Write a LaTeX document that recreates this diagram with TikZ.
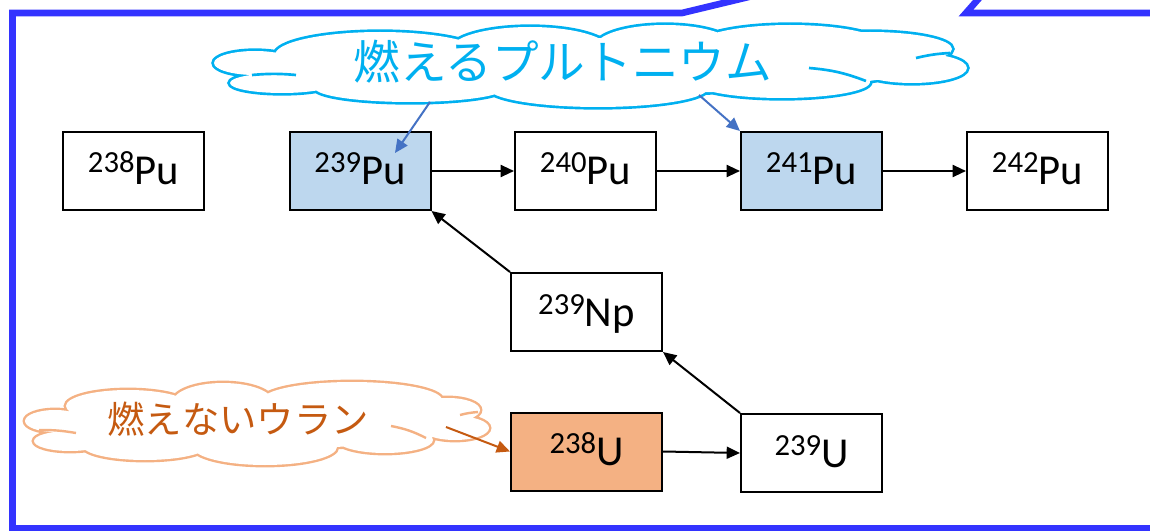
\documentclass[tikz,border=0pt]{standalone}
\usepackage{fontspec}
\setmainfont{Carlito}
\newfontfamily\jp{Noto Sans CJK JP}
\usetikzlibrary{arrows.meta}
\definecolor{frameblue}{HTML}{3333FF}
\definecolor{pufill}{HTML}{BDD7EE}
\definecolor{ufill}{HTML}{F4B183}
\definecolor{cloudblue}{HTML}{00B0F0}
\definecolor{callblue}{HTML}{4472C4}
\definecolor{orangetext}{HTML}{C55A11}
\definecolor{cloudorange}{HTML}{F4B183}
\newcommand\nuc[2]{{\fontsize{23}{23}\selectfont\raisebox{9pt}{#1}}{\fontsize{32}{32}\selectfont #2}}
\begin{document}
\begin{tikzpicture}[x=0.75pt,y=-0.75pt,
  iso/.style={draw=black, line width=1.5pt, minimum width=105.75pt, minimum height=58.5pt,
    text height=21pt, text depth=0pt, inner sep=0pt},
  wideiso/.style={iso, minimum width=113.25pt},
  conn/.style={line width=1.5pt, -{Triangle[length=10pt,width=9pt]}},
  callb/.style={callblue, line width=1.5pt, -{Triangle[length=10pt,width=9pt]}},
  callo/.style={orangetext, line width=1.5pt, -{Triangle[length=10pt,width=9pt]}},
  bluelobes/.style={insert path={
    (255,63) ellipse [x radius=41, y radius=12]
    (282,83) ellipse [x radius=52, y radius=10]
    (410,88) ellipse [x radius=95, y radius=14]
    (598,88) ellipse [x radius=110, y radius=19]
    (782,82) ellipse [x radius=88, y radius=16]
    (912,68) ellipse [x radius=55, y radius=15]
    (870,49) ellipse [x radius=82, y radius=17]
    (790,46) ellipse [x radius=95, y radius=21]
    (665,47) ellipse [x radius=70, y radius=22]
    (530,50) ellipse [x radius=80, y radius=23]
    (380,55) ellipse [x radius=105, y radius=23]
    (590,66) ellipse [x radius=330, y radius=28]}},
  orangelobes/.style={insert path={
    (55,421) ellipse [x radius=30, y radius=11]
    (70,441) ellipse [x radius=36, y radius=10]
    (128,406) ellipse [x radius=62, y radius=16]
    (223,402) ellipse [x radius=50, y radius=19]
    (352,400) ellipse [x radius=90, y radius=18]
    (448,410) ellipse [x radius=32, y radius=12]
    (455,428) ellipse [x radius=34, y radius=12]
    (385,440) ellipse [x radius=48, y radius=13]
    (265,447) ellipse [x radius=72, y radius=18]
    (145,446) ellipse [x radius=62, y radius=14]
    (257,424) ellipse [x radius=200, y radius=25]}},
]
\useasboundingbox (0,0) rectangle (1150,531);
\begin{scope}
\clip (0,0) rectangle (1150,531);
\draw[frameblue, line width=5pt, line join=miter] (1160,528.5) -- (12.5,528.5) -- (12.5,13) -- (682,13) -- (790,-13);
\draw[frameblue, line width=5pt, line join=miter] (988,-12) -- (966,13) -- (1160,13);
\end{scope}

% blue cloud
\draw[cloudblue, line width=4pt, bluelobes];
\fill[white, bluelobes];
\draw[cloudblue, line width=2pt] (252,75) to[bend left=5] (296,75);
\draw[cloudblue, line width=2pt] (809,68) to[bend left=8] (866,81);
\draw[cloudblue, line width=2pt] (916,58) to[bend left=5] (950,53);
\node[text=cloudblue, font=\jp\fontsize{35}{35}\selectfont, inner sep=0pt] (tb) at (563,62) {燃えるプルトニウム};

% orange cloud
\draw[cloudorange, line width=3.6pt, orangelobes];
\fill[white, orangelobes];
\draw[cloudorange, line width=1.8pt] (39,430) to[bend left=5] (76,433);
\draw[cloudorange, line width=1.8pt] (391,426) to[bend left=8] (426,438);
\draw[cloudorange, line width=1.8pt] (460,415) to[bend left=5] (478,412);
\node[text=orangetext, font=\jp\fontsize{28}{28}\selectfont, inner sep=0pt] (to) at (238,419) {燃えないウラン};

% nuclide boxes
\node[iso] (pu238) at (133.5,171) {\nuc{238}{Pu}};
\node[iso, fill=pufill] (pu239) at (360,171) {\nuc{239}{Pu}};
\node[iso] (pu240) at (585.5,171) {\nuc{240}{Pu}};
\node[iso, fill=pufill] (pu241) at (811.5,171) {\nuc{241}{Pu}};
\node[iso] (pu242) at (1037.5,171) {\nuc{242}{Pu}};
\node[wideiso] (np239) at (586.5,312) {\nuc{239}{Np}};
\node[wideiso, fill=ufill] (u238) at (586.5,451.5) {\nuc{238}{U}};
\node[iso] (u239) at (811.5,453) {\nuc{239}{U}};

% reaction arrows
\draw[conn] (pu239.east) -- (pu240.west);
\draw[conn] (pu240.east) -- (pu241.west);
\draw[conn] (pu241.east) -- (pu242.west);
\draw[conn] (np239.north west) -- (pu239.south east);
\draw[conn] (u239.north west) -- (np239.south east);
\draw[conn] (u238.east) -- (u239.west);

% callout arrows
\coordinate (c1) at (430,102);
\coordinate (c1t) at (395,153);
\coordinate (c2) at (699,95);
\coordinate (c3) at (446,427);
\draw[callb] (c1) -- (c1t);
\draw[callb] (c2) -- (pu241.north west);
\draw[callo] (c3) -- (u238.west);
\end{tikzpicture}
\end{document}
